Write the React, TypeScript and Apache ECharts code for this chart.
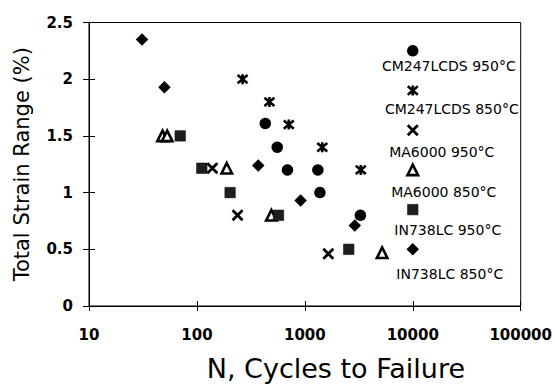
import React, { useEffect, useRef } from 'react';
import * as echarts from 'echarts';

const FONT = '"DejaVu Sans", "Liberation Sans", Arial, sans-serif';

// Tick labels
const xTickValues = [10, 100, 1000, 10000, 100000];
const yTickValues = [0, 0.5, 1, 1.5, 2, 2.5];

// Series names
const seriesNames = [
  'CM247LCDS 950°C',
  'CM247LCDS 850°C',
  'MA6000 950°C',
  'MA6000 850°C',
  'IN738LC 950°C',
  'IN738LC 850°C',
];

// Data: [cycles to failure, total strain range %]
const cm247lcds950: [number, number][] = [[430, 1.61], [555, 1.4], [690, 1.2], [1320, 1.2], [1380, 1.0], [3270, 0.8]];
const cm247lcds850: [number, number][] = [[265, 2.0], [470, 1.8], [710, 1.6], [1450, 1.4], [3300, 1.2]];
const ma6000_950: [number, number][] = [[139, 1.215], [238, 0.8], [1650, 0.46]];
const ma6000_850: [number, number][] = [[48, 1.5], [53, 1.5], [189, 1.215], [490, 0.8], [5200, 0.47]];
const in738lc950: [number, number][] = [[70, 1.5], [111, 1.215], [203, 1.0], [570, 0.8], [2550, 0.5]];
const in738lc850: [number, number][] = [[31, 2.35], [50, 1.93], [370, 1.24], [914, 0.93], [2900, 0.71]];

// Key (in-plot legend) markers
const keyPoints: [number, number][] = [[10000, 2.25], [10000, 1.9], [10000, 1.55], [10000, 1.2], [10000, 0.85], [10000, 0.5]];

const allData = [cm247lcds950, cm247lcds850, ma6000_950, ma6000_850, in738lc950, in738lc850];

const X_PATH = 'path://M0,0L10,10M10,0L0,10';
const STAR_PATH = 'path://M0,0L10,10M10,0L0,10M5,-1L5,11';

const markerStyles = [
  { symbol: 'circle', size: 11.5, itemStyle: { color: '#000', opacity: 1 }, offset: [36, 15] },
  { symbol: STAR_PATH, size: 10, itemStyle: { color: 'rgba(0,0,0,0)', borderColor: '#000', borderWidth: 2.6, opacity: 1 }, offset: [39, 18] },
  { symbol: X_PATH, size: 10, itemStyle: { color: 'rgba(0,0,0,0)', borderColor: '#000', borderWidth: 2.8, opacity: 1 }, offset: [29, 22] },
  { symbol: 'triangle', size: 10.5, itemStyle: { color: '#fff', borderColor: '#000', borderWidth: 2.6, opacity: 1 }, offset: [31, 22] },
  { symbol: 'rect', size: 10.5, itemStyle: { color: '#1e1e1e', borderColor: '#000', borderWidth: 0.5, opacity: 1 }, offset: [35, 20] },
  { symbol: 'diamond', size: 12.5, itemStyle: { color: '#000', opacity: 1 }, offset: [37, 25] },
];

export default function App() {
  const ref = useRef<HTMLDivElement>(null);

  useEffect(() => {
    if (!ref.current) return;
    const chart = echarts.init(ref.current, null, { renderer: 'svg' });

    const series = allData.map((pts, i) => {
      const st = markerStyles[i];
      const data: any[] = pts.map((p) => ({ value: p }));
      data.push({
        value: keyPoints[i],
        label: {
          show: true,
          formatter: seriesNames[i],
          position: 'inside',
          offset: st.offset,
          color: '#000',
          opacity: 1,
          fontSize: 14,
          fontFamily: FONT,
        },
      });
      return {
        name: seriesNames[i],
        type: 'scatter',
        xAxisIndex: 0,
        yAxisIndex: 0,
        symbol: st.symbol,
        symbolSize: st.size,
        itemStyle: st.itemStyle,
        emphasis: { disabled: true },
        clip: false,
        data,
      };
    });

    const common = { min: 10, max: 100000, logBase: 10 };

    chart.setOption({
      animation: false,
      backgroundColor: '#fff',
      grid: {
        left: 89,
        top: 22.5,
        right: 33,
        bottom: 74,
        show: true,
        borderColor: '#000',
        borderWidth: 1,
        backgroundColor: 'transparent',
      },
      xAxis: [
        {
          type: 'log',
          ...common,
          position: 'bottom',
          name: 'N, Cycles to Failure',
          nameLocation: 'middle',
          nameGap: 49,
          nameTextStyle: { fontSize: 27, fontFamily: FONT, color: '#000', padding: [0, 0, 0, 62] },
          axisLine: { show: true, lineStyle: { color: '#000', width: 1 } },
          axisTick: { show: true, inside: false, length: 5, lineStyle: { color: '#000' } },
          axisLabel: {
            show: true,
            margin: 21,
            fontSize: 15,
            fontWeight: 'bold',
            fontFamily: FONT,
            color: '#000',
            formatter: (v: number) => {
              const t = xTickValues.find((x) => Math.abs(x - v) / x < 1e-6);
              return t !== undefined ? String(t) : '';
            },
          },
          splitLine: { show: false },
          minorTick: { show: false },
        },
        {
          type: 'log',
          ...common,
          position: 'bottom',
          axisLine: { show: false },
          axisTick: { show: true, inside: true, length: 5, lineStyle: { color: '#000' } },
          axisLabel: { show: false },
          splitLine: { show: false },
        },
      ],
      yAxis: [
        {
          type: 'value',
          min: yTickValues[0],
          max: yTickValues[yTickValues.length - 1],
          interval: 0.5,
          position: 'left',
          name: 'Total Strain Range (%)',
          nameLocation: 'middle',
          nameGap: 57,
          nameTextStyle: { fontSize: 21, fontFamily: FONT, color: '#000' },
          axisLine: { show: true, lineStyle: { color: '#000', width: 1 } },
          axisTick: { show: true, inside: false, length: 6, lineStyle: { color: '#000' } },
          axisLabel: { show: true, margin: 16, fontSize: 15, fontWeight: 'bold', fontFamily: FONT, color: '#000' },
          splitLine: { show: false },
        },
        {
          type: 'value',
          min: yTickValues[0],
          max: yTickValues[yTickValues.length - 1],
          interval: 0.5,
          position: 'left',
          axisLine: { show: false },
          axisTick: { show: true, inside: true, length: 6, lineStyle: { color: '#000' } },
          axisLabel: { show: false },
          splitLine: { show: false },
        },
      ],
      series,
    });

    return () => chart.dispose();
  }, []);

  return (
    <div
      ref={ref}
      style={{ position: 'absolute', left: 0, top: 0, width: 555, height: 387, background: '#fff' }}
    />
  );
}
